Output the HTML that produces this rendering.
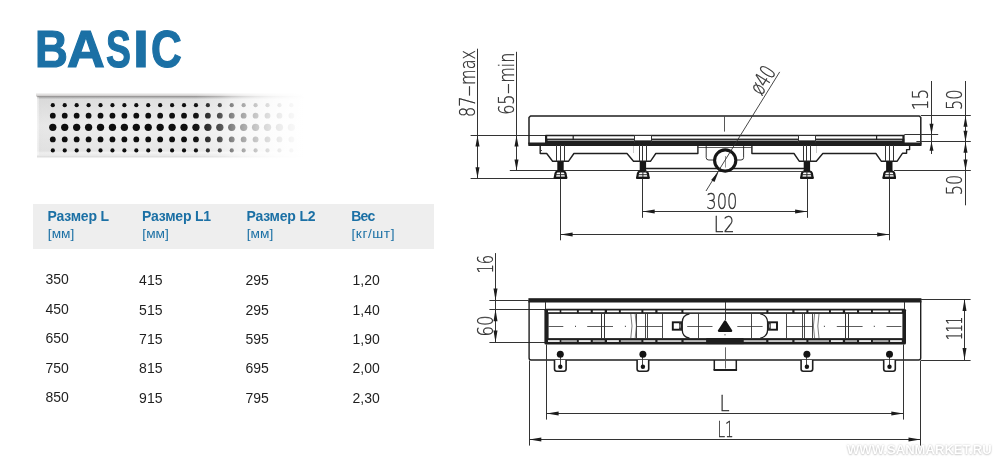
<!DOCTYPE html>
<html lang="ru">
<head>
<meta charset="utf-8">
<title>BASIC</title>
<style>
html,body{margin:0;padding:0;background:#fff;}
body{width:1000px;height:464px;position:relative;overflow:hidden;font-family:"Liberation Sans",sans-serif;}
.page{position:absolute;left:0;top:0;width:1000px;height:464px;overflow:hidden;will-change:transform;background:#fff;}
.title{position:absolute;left:0;top:19.49px;width:300px;height:60px;font-weight:bold;font-size:51.7px;line-height:60px;color:#1b70a5;white-space:nowrap;-webkit-text-stroke:1.2px #1b70a5;}
.title span{display:inline-block;width:0;transform-origin:0 0;}
.hdr{position:absolute;left:32.8px;top:203.9px;width:401.2px;height:45px;background:#eeeeee;}
.h1{position:absolute;height:24px;line-height:24px;font-weight:bold;font-size:14.0px;letter-spacing:-0.32px;color:#1b70a5;white-space:nowrap;}
.h2{position:absolute;height:20px;line-height:20px;font-size:13.7px;color:#1b70a5;white-space:nowrap;}
.d{position:absolute;height:24px;line-height:24px;font-size:14.0px;color:#1f1f1f;white-space:nowrap;}
.wm{position:absolute;left:846.5px;top:439.85px;height:20px;line-height:20px;font-weight:bold;font-size:13.7px;color:#fff;white-space:nowrap;text-shadow:0 0 2px rgba(0,0,0,0.25),0 1px 2px rgba(0,0,0,0.15);transform-origin:0 0;transform:scaleX(0.956);}
svg{position:absolute;left:0;top:0;}
</style>
</head>
<body>
<div class="page">
<div class="title"><span style="margin-left:34.68px;transform:scaleX(0.880)">B</span><span style="margin-left:32.22px;transform:scaleX(1.012)">A</span><span style="margin-left:39.25px;transform:scaleX(0.721)">S</span><span style="margin-left:27.07px;transform:scaleX(1.110)">I</span><span style="margin-left:17.92px;transform:scaleX(0.823)">C</span></div>
<svg width="1000" height="464" viewBox="0 0 1000 464">
<g id="grate">
<defs>
<linearGradient id="plate" x1="0" y1="0" x2="0" y2="1">
<stop offset="0" stop-color="#7d7a7a"/><stop offset="0.022" stop-color="#b4b4b4"/><stop offset="0.05" stop-color="#e0e0e0"/>
<stop offset="0.5" stop-color="#eeeeee"/><stop offset="0.92" stop-color="#e7e7e7"/><stop offset="0.95" stop-color="#f4f4f4"/><stop offset="1" stop-color="#e6e6e6"/>
</linearGradient>
<linearGradient id="dark" gradientUnits="userSpaceOnUse" x1="37" y1="0" x2="120" y2="0">
<stop offset="0" stop-color="#000" stop-opacity="0.03"/><stop offset="1" stop-color="#000" stop-opacity="0"/>
</linearGradient>
<linearGradient id="fade" gradientUnits="userSpaceOnUse" x1="186" y1="0" x2="305" y2="0">
<stop offset="0.000" stop-color="#fff" stop-opacity="0.0"/><stop offset="0.084" stop-color="#fff" stop-opacity="0.02"/><stop offset="0.185" stop-color="#fff" stop-opacity="0.15"/><stop offset="0.286" stop-color="#fff" stop-opacity="0.28"/><stop offset="0.387" stop-color="#fff" stop-opacity="0.5"/><stop offset="0.487" stop-color="#fff" stop-opacity="0.65"/><stop offset="0.588" stop-color="#fff" stop-opacity="0.77"/><stop offset="0.689" stop-color="#fff" stop-opacity="0.86"/><stop offset="0.790" stop-color="#fff" stop-opacity="0.92"/><stop offset="0.882" stop-color="#fff" stop-opacity="0.96"/><stop offset="1.000" stop-color="#fff" stop-opacity="1.0"/>
</linearGradient>
<linearGradient id="shadowT" x1="0" y1="0" x2="0" y2="1">
<stop offset="0" stop-color="#6b6462" stop-opacity="0"/><stop offset="1" stop-color="#6b6462" stop-opacity="0.4"/>
</linearGradient>
<linearGradient id="shadowB" x1="0" y1="0" x2="0" y2="1">
<stop offset="0" stop-color="#999" stop-opacity="0.45"/><stop offset="1" stop-color="#999" stop-opacity="0"/>
</linearGradient>
<linearGradient id="edgeL" x1="0" y1="0" x2="1" y2="0">
<stop offset="0" stop-color="#fff" stop-opacity="0.9"/><stop offset="1" stop-color="#fff" stop-opacity="0"/>
</linearGradient>
</defs>
<rect x="36" y="92.5" width="270" height="4" fill="url(#shadowT)"/>
<rect x="37" y="155.6" width="270" height="3" fill="url(#shadowB)"/>
<rect x="37.2" y="96.2" width="270" height="59.5" fill="url(#plate)"/>
<rect x="37.2" y="97.5" width="83" height="56" fill="url(#dark)"/>
<rect x="37.2" y="97.2" width="1.6" height="58" fill="#fff" fill-opacity="0.45"/>
<circle cx="52.80" cy="105.2" r="2.1" fill="#0e0e0e"/>
<circle cx="52.80" cy="115.7" r="2.9" fill="#0e0e0e"/>
<circle cx="52.80" cy="127.3" r="3.65" fill="#0e0e0e"/>
<circle cx="52.80" cy="139.4" r="2.9" fill="#0e0e0e"/>
<circle cx="52.80" cy="150.4" r="2.1" fill="#0e0e0e"/>
<circle cx="64.73" cy="105.2" r="2.1" fill="#0e0e0e"/>
<circle cx="64.73" cy="115.7" r="2.9" fill="#0e0e0e"/>
<circle cx="64.73" cy="127.3" r="3.65" fill="#0e0e0e"/>
<circle cx="64.73" cy="139.4" r="2.9" fill="#0e0e0e"/>
<circle cx="64.73" cy="150.4" r="2.1" fill="#0e0e0e"/>
<circle cx="76.66" cy="105.2" r="2.1" fill="#0e0e0e"/>
<circle cx="76.66" cy="115.7" r="2.9" fill="#0e0e0e"/>
<circle cx="76.66" cy="127.3" r="3.65" fill="#0e0e0e"/>
<circle cx="76.66" cy="139.4" r="2.9" fill="#0e0e0e"/>
<circle cx="76.66" cy="150.4" r="2.1" fill="#0e0e0e"/>
<circle cx="88.59" cy="105.2" r="2.1" fill="#0e0e0e"/>
<circle cx="88.59" cy="115.7" r="2.9" fill="#0e0e0e"/>
<circle cx="88.59" cy="127.3" r="3.65" fill="#0e0e0e"/>
<circle cx="88.59" cy="139.4" r="2.9" fill="#0e0e0e"/>
<circle cx="88.59" cy="150.4" r="2.1" fill="#0e0e0e"/>
<circle cx="100.52" cy="105.2" r="2.1" fill="#0e0e0e"/>
<circle cx="100.52" cy="115.7" r="2.9" fill="#0e0e0e"/>
<circle cx="100.52" cy="127.3" r="3.65" fill="#0e0e0e"/>
<circle cx="100.52" cy="139.4" r="2.9" fill="#0e0e0e"/>
<circle cx="100.52" cy="150.4" r="2.1" fill="#0e0e0e"/>
<circle cx="112.45" cy="105.2" r="2.1" fill="#0e0e0e"/>
<circle cx="112.45" cy="115.7" r="2.9" fill="#0e0e0e"/>
<circle cx="112.45" cy="127.3" r="3.65" fill="#0e0e0e"/>
<circle cx="112.45" cy="139.4" r="2.9" fill="#0e0e0e"/>
<circle cx="112.45" cy="150.4" r="2.1" fill="#0e0e0e"/>
<circle cx="124.38" cy="105.2" r="2.1" fill="#0e0e0e"/>
<circle cx="124.38" cy="115.7" r="2.9" fill="#0e0e0e"/>
<circle cx="124.38" cy="127.3" r="3.65" fill="#0e0e0e"/>
<circle cx="124.38" cy="139.4" r="2.9" fill="#0e0e0e"/>
<circle cx="124.38" cy="150.4" r="2.1" fill="#0e0e0e"/>
<circle cx="136.31" cy="105.2" r="2.1" fill="#0e0e0e"/>
<circle cx="136.31" cy="115.7" r="2.9" fill="#0e0e0e"/>
<circle cx="136.31" cy="127.3" r="3.65" fill="#0e0e0e"/>
<circle cx="136.31" cy="139.4" r="2.9" fill="#0e0e0e"/>
<circle cx="136.31" cy="150.4" r="2.1" fill="#0e0e0e"/>
<circle cx="148.24" cy="105.2" r="2.1" fill="#0e0e0e"/>
<circle cx="148.24" cy="115.7" r="2.9" fill="#0e0e0e"/>
<circle cx="148.24" cy="127.3" r="3.65" fill="#0e0e0e"/>
<circle cx="148.24" cy="139.4" r="2.9" fill="#0e0e0e"/>
<circle cx="148.24" cy="150.4" r="2.1" fill="#0e0e0e"/>
<circle cx="160.17" cy="105.2" r="2.1" fill="#0e0e0e"/>
<circle cx="160.17" cy="115.7" r="2.9" fill="#0e0e0e"/>
<circle cx="160.17" cy="127.3" r="3.65" fill="#0e0e0e"/>
<circle cx="160.17" cy="139.4" r="2.9" fill="#0e0e0e"/>
<circle cx="160.17" cy="150.4" r="2.1" fill="#0e0e0e"/>
<circle cx="172.10" cy="105.2" r="2.1" fill="#0e0e0e"/>
<circle cx="172.10" cy="115.7" r="2.9" fill="#0e0e0e"/>
<circle cx="172.10" cy="127.3" r="3.65" fill="#0e0e0e"/>
<circle cx="172.10" cy="139.4" r="2.9" fill="#0e0e0e"/>
<circle cx="172.10" cy="150.4" r="2.1" fill="#0e0e0e"/>
<circle cx="184.03" cy="105.2" r="2.1" fill="#0e0e0e"/>
<circle cx="184.03" cy="115.7" r="2.9" fill="#0e0e0e"/>
<circle cx="184.03" cy="127.3" r="3.65" fill="#0e0e0e"/>
<circle cx="184.03" cy="139.4" r="2.9" fill="#0e0e0e"/>
<circle cx="184.03" cy="150.4" r="2.1" fill="#0e0e0e"/>
<circle cx="195.96" cy="105.2" r="2.1" fill="#0e0e0e"/>
<circle cx="195.96" cy="115.7" r="2.9" fill="#0e0e0e"/>
<circle cx="195.96" cy="127.3" r="3.65" fill="#0e0e0e"/>
<circle cx="195.96" cy="139.4" r="2.9" fill="#0e0e0e"/>
<circle cx="195.96" cy="150.4" r="2.1" fill="#0e0e0e"/>
<circle cx="207.89" cy="105.2" r="2.1" fill="#0e0e0e"/>
<circle cx="207.89" cy="115.7" r="2.9" fill="#0e0e0e"/>
<circle cx="207.89" cy="127.3" r="3.65" fill="#0e0e0e"/>
<circle cx="207.89" cy="139.4" r="2.9" fill="#0e0e0e"/>
<circle cx="207.89" cy="150.4" r="2.1" fill="#0e0e0e"/>
<circle cx="219.82" cy="105.2" r="2.1" fill="#0e0e0e"/>
<circle cx="219.82" cy="115.7" r="2.9" fill="#0e0e0e"/>
<circle cx="219.82" cy="127.3" r="3.65" fill="#0e0e0e"/>
<circle cx="219.82" cy="139.4" r="2.9" fill="#0e0e0e"/>
<circle cx="219.82" cy="150.4" r="2.1" fill="#0e0e0e"/>
<circle cx="231.75" cy="105.2" r="2.1" fill="#0e0e0e"/>
<circle cx="231.75" cy="115.7" r="2.9" fill="#0e0e0e"/>
<circle cx="231.75" cy="127.3" r="3.65" fill="#0e0e0e"/>
<circle cx="231.75" cy="139.4" r="2.9" fill="#0e0e0e"/>
<circle cx="231.75" cy="150.4" r="2.1" fill="#0e0e0e"/>
<circle cx="243.68" cy="105.2" r="2.1" fill="#0e0e0e"/>
<circle cx="243.68" cy="115.7" r="2.9" fill="#0e0e0e"/>
<circle cx="243.68" cy="127.3" r="3.65" fill="#0e0e0e"/>
<circle cx="243.68" cy="139.4" r="2.9" fill="#0e0e0e"/>
<circle cx="243.68" cy="150.4" r="2.1" fill="#0e0e0e"/>
<circle cx="255.61" cy="105.2" r="2.1" fill="#0e0e0e"/>
<circle cx="255.61" cy="115.7" r="2.9" fill="#0e0e0e"/>
<circle cx="255.61" cy="127.3" r="3.65" fill="#0e0e0e"/>
<circle cx="255.61" cy="139.4" r="2.9" fill="#0e0e0e"/>
<circle cx="255.61" cy="150.4" r="2.1" fill="#0e0e0e"/>
<circle cx="267.54" cy="105.2" r="2.1" fill="#0e0e0e"/>
<circle cx="267.54" cy="115.7" r="2.9" fill="#0e0e0e"/>
<circle cx="267.54" cy="127.3" r="3.65" fill="#0e0e0e"/>
<circle cx="267.54" cy="139.4" r="2.9" fill="#0e0e0e"/>
<circle cx="267.54" cy="150.4" r="2.1" fill="#0e0e0e"/>
<circle cx="279.47" cy="105.2" r="2.1" fill="#0e0e0e"/>
<circle cx="279.47" cy="115.7" r="2.9" fill="#0e0e0e"/>
<circle cx="279.47" cy="127.3" r="3.65" fill="#0e0e0e"/>
<circle cx="279.47" cy="139.4" r="2.9" fill="#0e0e0e"/>
<circle cx="279.47" cy="150.4" r="2.1" fill="#0e0e0e"/>
<circle cx="291.40" cy="105.2" r="2.1" fill="#0e0e0e"/>
<circle cx="291.40" cy="115.7" r="2.9" fill="#0e0e0e"/>
<circle cx="291.40" cy="127.3" r="3.65" fill="#0e0e0e"/>
<circle cx="291.40" cy="139.4" r="2.9" fill="#0e0e0e"/>
<circle cx="291.40" cy="150.4" r="2.1" fill="#0e0e0e"/>
<rect x="30" y="88" width="285" height="75" fill="url(#fade)"/>
</g>
<g id="drawing">
<line x1="477.50" y1="48.70" x2="477.50" y2="178.30" stroke="#333" stroke-width="1.0" />
<line x1="516.50" y1="51.80" x2="516.50" y2="170.60" stroke="#333" stroke-width="1.0" />
<line x1="470.60" y1="135.50" x2="545.50" y2="135.50" stroke="#333" stroke-width="1.0" />
<line x1="470.60" y1="178.50" x2="554.50" y2="178.50" stroke="#333" stroke-width="1.0" />
<line x1="509.80" y1="170.50" x2="645.00" y2="170.50" stroke="#333" stroke-width="1.0" />
<path d="M477.50 135.50 L475.50 146.50 L479.50 146.50 Z" fill="#1c1c1c"/>
<path d="M477.50 178.30 L479.50 167.30 L475.50 167.30 Z" fill="#1c1c1c"/>
<path d="M516.50 135.50 L514.50 146.50 L518.50 146.50 Z" fill="#1c1c1c"/>
<path d="M516.50 170.60 L518.50 159.60 L514.50 159.60 Z" fill="#1c1c1c"/>
<text transform="translate(474.80 117.01) rotate(-90) scale(0.736 1)" font-family="'DejaVu Sans Light','DejaVu Sans','Liberation Sans',sans-serif" font-size="21.7" fill="#2c2c2c" stroke="#2c2c2c" stroke-width="0.3">87<tspan textLength="16.0" lengthAdjust="spacingAndGlyphs">-</tspan>max</text>
<text transform="translate(513.80 114.85) rotate(-90) scale(0.737 1)" font-family="'DejaVu Sans Light','DejaVu Sans','Liberation Sans',sans-serif" font-size="21.7" fill="#2c2c2c" stroke="#2c2c2c" stroke-width="0.3">65<tspan textLength="16.0" lengthAdjust="spacingAndGlyphs">-</tspan>min</text>
<path d="M529.00 144.50 L529.00 117.50 L530.50 116.00 L919.30 116.00 L920.80 117.50 L920.80 144.50" fill="none" stroke="#1f1f1f" stroke-width="1.5" stroke-linejoin="round" />
<rect x="528.30" y="142.50" width="393.20" height="3.50" rx="0" fill="#1f1f1f" stroke="none" stroke-width="0"/>
<line x1="545.50" y1="135.50" x2="904.30" y2="135.50" stroke="#1f1f1f" stroke-width="1.4" />
<rect x="545.50" y="138.60" width="358.80" height="7.30" rx="0" fill="#1f1f1f" stroke="none" stroke-width="0"/>
<rect x="547.50" y="139.90" width="354.80" height="0.90" rx="0" fill="#b5b5b5" stroke="none" stroke-width="0"/>
<rect x="545.00" y="135.00" width="2.20" height="8.00" rx="0" fill="#1f1f1f" stroke="none" stroke-width="0"/>
<rect x="902.40" y="135.00" width="2.20" height="8.00" rx="0" fill="#1f1f1f" stroke="none" stroke-width="0"/>
<rect x="634.00" y="134.80" width="17.20" height="6.00" rx="0" fill="#fff" stroke="none" stroke-width="0"/>
<line x1="634.00" y1="135.50" x2="651.20" y2="135.50" stroke="#333" stroke-width="1.0" />
<line x1="634.00" y1="141.00" x2="651.20" y2="141.00" stroke="#1f1f1f" stroke-width="1.2" />
<line x1="634.50" y1="135.00" x2="634.50" y2="142.60" stroke="#333" stroke-width="1.0" />
<line x1="651.50" y1="135.00" x2="651.50" y2="142.60" stroke="#333" stroke-width="1.0" />
<rect x="798.60" y="134.80" width="17.20" height="6.00" rx="0" fill="#fff" stroke="none" stroke-width="0"/>
<line x1="798.60" y1="135.50" x2="815.80" y2="135.50" stroke="#333" stroke-width="1.0" />
<line x1="798.60" y1="141.00" x2="815.80" y2="141.00" stroke="#1f1f1f" stroke-width="1.2" />
<line x1="798.50" y1="135.00" x2="798.50" y2="142.60" stroke="#333" stroke-width="1.0" />
<line x1="815.50" y1="135.00" x2="815.50" y2="142.60" stroke="#333" stroke-width="1.0" />
<line x1="573.20" y1="135.50" x2="573.20" y2="140.00" stroke="#1f1f1f" stroke-width="1.2" />
<line x1="876.60" y1="135.50" x2="876.60" y2="140.00" stroke="#1f1f1f" stroke-width="1.2" />
<line x1="724.50" y1="116.00" x2="724.50" y2="131.60" stroke="#444" stroke-width="0.9" />
<path d="M540.20 145.00 L540.20 153.50 L546.70 153.50 L552.60 161.20 L568.60 161.20 L573.90 153.50 L627.00 153.50 L633.50 161.20 L650.60 161.20 L655.80 153.50 L697.90 153.50 L697.90 145.00" fill="none" stroke="#1f1f1f" stroke-width="1.4" stroke-linejoin="round" />
<line x1="540.20" y1="150.50" x2="542.00" y2="150.50" stroke="#333" stroke-width="0.9" />
<path d="M909.60 145.50 L909.60 149.60 L906.60 149.60 L906.60 153.30 L902.40 153.30 L897.20 161.20 L881.20 161.20 L875.90 153.50 L822.80 153.50 L816.30 161.20 L799.20 161.20 L794.00 153.50 L751.90 153.50 L751.90 145.00" fill="none" stroke="#1f1f1f" stroke-width="1.4" stroke-linejoin="round" />
<line x1="556.50" y1="145.00" x2="556.50" y2="161.50" stroke="#333" stroke-width="1.0" />
<line x1="560.50" y1="145.00" x2="560.50" y2="161.50" stroke="#333" stroke-width="1.0" />
<line x1="564.50" y1="145.00" x2="564.50" y2="161.50" stroke="#333" stroke-width="1.0" />
<rect x="557.30" y="161.40" width="6.40" height="9.80" rx="0" fill="#161616" stroke="none" stroke-width="0"/>
<path d="M554.80 177.8 L555.50 173.6 Q556.00 171.5 557.70 171.5 L563.30 171.5 Q565.00 171.5 565.50 173.6 L566.20 177.8 Z" fill="#fff" stroke="#161616" stroke-width="2.2" stroke-linejoin="round"/>
<line x1="555.50" y1="174.70" x2="565.50" y2="174.70" stroke="#2a2a2a" stroke-width="1.0" />
<line x1="560.50" y1="171.00" x2="560.50" y2="178.00" stroke="#2a2a2a" stroke-width="1.0" />
<rect x="553.80" y="176.80" width="13.40" height="2.00" rx="0" fill="#161616" stroke="none" stroke-width="0"/>
<line x1="639.50" y1="145.00" x2="639.50" y2="161.50" stroke="#333" stroke-width="1.0" />
<line x1="642.50" y1="145.00" x2="642.50" y2="161.50" stroke="#333" stroke-width="1.0" />
<line x1="646.50" y1="145.00" x2="646.50" y2="161.50" stroke="#333" stroke-width="1.0" />
<rect x="639.70" y="161.40" width="6.40" height="9.80" rx="0" fill="#161616" stroke="none" stroke-width="0"/>
<path d="M637.20 177.8 L637.90 173.6 Q638.40 171.5 640.10 171.5 L645.70 171.5 Q647.40 171.5 647.90 173.6 L648.60 177.8 Z" fill="#fff" stroke="#161616" stroke-width="2.2" stroke-linejoin="round"/>
<line x1="637.90" y1="174.70" x2="647.90" y2="174.70" stroke="#2a2a2a" stroke-width="1.0" />
<line x1="642.90" y1="171.00" x2="642.90" y2="178.00" stroke="#2a2a2a" stroke-width="1.0" />
<rect x="636.20" y="176.80" width="13.40" height="2.00" rx="0" fill="#161616" stroke="none" stroke-width="0"/>
<line x1="803.50" y1="145.00" x2="803.50" y2="161.50" stroke="#333" stroke-width="1.0" />
<line x1="806.50" y1="145.00" x2="806.50" y2="161.50" stroke="#333" stroke-width="1.0" />
<line x1="810.50" y1="145.00" x2="810.50" y2="161.50" stroke="#333" stroke-width="1.0" />
<rect x="803.70" y="161.40" width="6.40" height="9.80" rx="0" fill="#161616" stroke="none" stroke-width="0"/>
<path d="M801.20 177.8 L801.90 173.6 Q802.40 171.5 804.10 171.5 L809.70 171.5 Q811.40 171.5 811.90 173.6 L812.60 177.8 Z" fill="#fff" stroke="#161616" stroke-width="2.2" stroke-linejoin="round"/>
<line x1="801.90" y1="174.70" x2="811.90" y2="174.70" stroke="#2a2a2a" stroke-width="1.0" />
<line x1="806.90" y1="171.00" x2="806.90" y2="178.00" stroke="#2a2a2a" stroke-width="1.0" />
<rect x="800.20" y="176.80" width="13.40" height="2.00" rx="0" fill="#161616" stroke="none" stroke-width="0"/>
<line x1="885.50" y1="145.00" x2="885.50" y2="161.50" stroke="#333" stroke-width="1.0" />
<line x1="889.50" y1="145.00" x2="889.50" y2="161.50" stroke="#333" stroke-width="1.0" />
<line x1="893.50" y1="145.00" x2="893.50" y2="161.50" stroke="#333" stroke-width="1.0" />
<rect x="886.10" y="161.40" width="6.40" height="9.80" rx="0" fill="#161616" stroke="none" stroke-width="0"/>
<path d="M883.60 177.8 L884.30 173.6 Q884.80 171.5 886.50 171.5 L892.10 171.5 Q893.80 171.5 894.30 173.6 L895.00 177.8 Z" fill="#fff" stroke="#161616" stroke-width="2.2" stroke-linejoin="round"/>
<line x1="884.30" y1="174.70" x2="894.30" y2="174.70" stroke="#2a2a2a" stroke-width="1.0" />
<line x1="889.30" y1="171.00" x2="889.30" y2="178.00" stroke="#2a2a2a" stroke-width="1.0" />
<rect x="882.60" y="176.80" width="13.40" height="2.00" rx="0" fill="#161616" stroke="none" stroke-width="0"/>
<line x1="633.50" y1="146.00" x2="633.50" y2="153.00" stroke="#999" stroke-width="0.5" />
<line x1="816.50" y1="146.00" x2="816.50" y2="153.00" stroke="#999" stroke-width="0.5" />
<line x1="646.00" y1="168.50" x2="804.00" y2="168.50" stroke="#1f1f1f" stroke-width="1.4" />
<line x1="645.00" y1="171.50" x2="804.00" y2="171.50" stroke="#333" stroke-width="0.9" />
<line x1="697.90" y1="147.50" x2="751.90" y2="147.50" stroke="#333" stroke-width="0.8" />
<path d="M706.2 146 L706.2 157.6 Q706.2 160 708.8 160 L714 160 M743.60 146 L743.60 157.6 Q743.60 160 741.00 160 L735.80 160" fill="none" stroke="#1f1f1f" stroke-width="0.9"/>
<circle cx="725.2" cy="160.5" r="10.6" fill="#fff" stroke="#161616" stroke-width="3.1"/>
<line x1="725.50" y1="156.00" x2="725.50" y2="167.50" stroke="#777" stroke-width="0.8" />
<line x1="779.70" y1="71.90" x2="706.00" y2="191.00" stroke="#333" stroke-width="0.9" />
<path d="M718.60 171.60 L711.11 179.90 L714.51 182.01 Z" fill="#1c1c1c"/>
<text transform="translate(761.38 96.31) rotate(-58.25) scale(0.710 1)" font-family="'DejaVu Sans Light','DejaVu Sans','Liberation Sans',sans-serif" font-size="21.7" fill="#2c2c2c" stroke="#2c2c2c" stroke-width="0.3">ø40</text>
<line x1="920.80" y1="115.50" x2="970.80" y2="115.50" stroke="#333" stroke-width="1.0" />
<line x1="904.30" y1="134.50" x2="938.20" y2="134.50" stroke="#333" stroke-width="1.0" />
<line x1="916.40" y1="141.50" x2="970.80" y2="141.50" stroke="#333" stroke-width="1.0" />
<line x1="894.00" y1="170.50" x2="970.80" y2="170.50" stroke="#333" stroke-width="1.0" />
<line x1="931.50" y1="81.00" x2="931.50" y2="154.00" stroke="#333" stroke-width="1.0" />
<line x1="965.50" y1="81.00" x2="965.50" y2="205.30" stroke="#333" stroke-width="1.0" />
<path d="M931.50 134.30 L933.50 123.80 L929.50 123.80 Z" fill="#1c1c1c"/>
<path d="M931.50 141.80 L929.50 150.80 L933.50 150.80 Z" fill="#1c1c1c"/>
<path d="M965.50 115.70 L963.50 126.70 L967.50 126.70 Z" fill="#1c1c1c"/>
<path d="M965.50 141.80 L967.50 130.80 L963.50 130.80 Z" fill="#1c1c1c"/>
<path d="M965.50 141.80 L963.50 152.80 L967.50 152.80 Z" fill="#1c1c1c"/>
<path d="M965.50 170.50 L967.50 159.50 L963.50 159.50 Z" fill="#1c1c1c"/>
<text transform="translate(927.60 110.25) rotate(-90) scale(0.776 1)" font-family="'DejaVu Sans Light','DejaVu Sans','Liberation Sans',sans-serif" font-size="21.7" fill="#2c2c2c" stroke="#2c2c2c" stroke-width="0.3">15</text>
<text transform="translate(962.30 110.00) rotate(-90) scale(0.746 1)" font-family="'DejaVu Sans Light','DejaVu Sans','Liberation Sans',sans-serif" font-size="21.7" fill="#2c2c2c" stroke="#2c2c2c" stroke-width="0.3">50</text>
<text transform="translate(962.20 195.29) rotate(-90) scale(0.742 1)" font-family="'DejaVu Sans Light','DejaVu Sans','Liberation Sans',sans-serif" font-size="21.7" fill="#2c2c2c" stroke="#2c2c2c" stroke-width="0.3">50</text>
<line x1="560.50" y1="178.60" x2="560.50" y2="240.30" stroke="#333" stroke-width="1.0" />
<line x1="889.50" y1="178.60" x2="889.50" y2="240.30" stroke="#333" stroke-width="1.0" />
<line x1="642.50" y1="178.60" x2="642.50" y2="217.80" stroke="#333" stroke-width="1.0" />
<line x1="807.50" y1="178.60" x2="807.50" y2="217.80" stroke="#333" stroke-width="1.0" />
<line x1="642.70" y1="211.50" x2="807.10" y2="211.50" stroke="#333" stroke-width="1.0" />
<path d="M642.70 211.50 L654.70 213.50 L654.70 209.50 Z" fill="#1c1c1c"/>
<path d="M807.10 211.50 L795.10 209.50 L795.10 213.50 Z" fill="#1c1c1c"/>
<line x1="560.60" y1="234.50" x2="889.20" y2="234.50" stroke="#333" stroke-width="1.0" />
<path d="M560.60 234.50 L572.60 236.50 L572.60 232.50 Z" fill="#1c1c1c"/>
<path d="M889.20 234.50 L877.20 232.50 L877.20 236.50 Z" fill="#1c1c1c"/>
<text transform="translate(706.36 208.60) scale(0.752 1)" font-family="'DejaVu Sans Light','DejaVu Sans','Liberation Sans',sans-serif" font-size="21.7" fill="#2c2c2c" stroke="#2c2c2c" stroke-width="0.3">300</text>
<text transform="translate(713.86 231.60) scale(0.807 1)" font-family="'DejaVu Sans Light','DejaVu Sans','Liberation Sans',sans-serif" font-size="21.7" fill="#2c2c2c" stroke="#2c2c2c" stroke-width="0.3">L2</text>
<line x1="495.50" y1="253.10" x2="495.50" y2="342.50" stroke="#333" stroke-width="1.0" />
<line x1="489.40" y1="300.50" x2="528.60" y2="300.50" stroke="#333" stroke-width="1.0" />
<line x1="489.40" y1="309.50" x2="545.50" y2="309.50" stroke="#333" stroke-width="1.0" />
<line x1="489.40" y1="342.50" x2="545.50" y2="342.50" stroke="#333" stroke-width="1.0" />
<path d="M495.50 300.60 L497.50 288.60 L493.50 288.60 Z" fill="#1c1c1c"/>
<path d="M495.50 309.30 L493.50 321.30 L497.50 321.30 Z" fill="#1c1c1c"/>
<path d="M495.50 342.50 L497.50 330.50 L493.50 330.50 Z" fill="#1c1c1c"/>
<text transform="translate(493.20 273.51) rotate(-90) scale(0.677 1)" font-family="'DejaVu Sans Light','DejaVu Sans','Liberation Sans',sans-serif" font-size="21.7" fill="#2c2c2c" stroke="#2c2c2c" stroke-width="0.3">16</text>
<text transform="translate(493.10 336.62) rotate(-90) scale(0.766 1)" font-family="'DejaVu Sans Light','DejaVu Sans','Liberation Sans',sans-serif" font-size="21.7" fill="#2c2c2c" stroke="#2c2c2c" stroke-width="0.3">60</text>
<path d="M529.1 300.4 L529.1 358 Q529.1 360 531.1 360 L918.7 360 Q920.7 360 920.7 358 L920.7 300.4" fill="none" stroke="#1f1f1f" stroke-width="1.4"/>
<rect x="528.40" y="298.20" width="393.00" height="4.30" rx="0" fill="#1f1f1f" stroke="none" stroke-width="0"/>
<rect x="544.40" y="308.70" width="361.60" height="35.70" rx="1.5" fill="#1f1f1f" stroke="none" stroke-width="0"/>
<rect x="548.60" y="313.90" width="353.80" height="24.20" rx="0" fill="#fff" stroke="none" stroke-width="0"/>
<line x1="545.50" y1="302.00" x2="545.50" y2="309.00" stroke="#333" stroke-width="1.0" />
<line x1="904.50" y1="302.00" x2="904.50" y2="309.00" stroke="#333" stroke-width="1.0" />
<rect x="548.00" y="310.50" width="11.70" height="1.70" rx="0" fill="#fff" stroke="none" stroke-width="0"/>
<rect x="890.10" y="310.50" width="11.70" height="1.70" rx="0" fill="#fff" stroke="none" stroke-width="0"/>
<rect x="561.30" y="310.50" width="15.60" height="1.70" rx="0" fill="#fff" stroke="none" stroke-width="0"/>
<rect x="872.90" y="310.50" width="15.60" height="1.70" rx="0" fill="#fff" stroke="none" stroke-width="0"/>
<rect x="578.80" y="310.50" width="11.90" height="1.70" rx="0" fill="#fff" stroke="none" stroke-width="0"/>
<rect x="859.10" y="310.50" width="11.90" height="1.70" rx="0" fill="#fff" stroke="none" stroke-width="0"/>
<rect x="592.80" y="310.50" width="11.90" height="1.70" rx="0" fill="#fff" stroke="none" stroke-width="0"/>
<rect x="845.10" y="310.50" width="11.90" height="1.70" rx="0" fill="#fff" stroke="none" stroke-width="0"/>
<rect x="607.00" y="310.50" width="11.90" height="1.70" rx="0" fill="#fff" stroke="none" stroke-width="0"/>
<rect x="830.90" y="310.50" width="11.90" height="1.70" rx="0" fill="#fff" stroke="none" stroke-width="0"/>
<rect x="620.80" y="310.50" width="20.60" height="1.70" rx="0" fill="#fff" stroke="none" stroke-width="0"/>
<rect x="808.40" y="310.50" width="20.60" height="1.70" rx="0" fill="#fff" stroke="none" stroke-width="0"/>
<rect x="643.40" y="310.50" width="11.90" height="1.70" rx="0" fill="#fff" stroke="none" stroke-width="0"/>
<rect x="794.50" y="310.50" width="11.90" height="1.70" rx="0" fill="#fff" stroke="none" stroke-width="0"/>
<rect x="657.50" y="310.50" width="23.90" height="1.70" rx="0" fill="#fff" stroke="none" stroke-width="0"/>
<rect x="768.40" y="310.50" width="23.90" height="1.70" rx="0" fill="#fff" stroke="none" stroke-width="0"/>
<rect x="683.60" y="310.50" width="41.40" height="1.70" rx="0" fill="#fff" stroke="none" stroke-width="0"/>
<rect x="683.60" y="310.50" width="82.80" height="1.70" rx="0" fill="#fff" stroke="none" stroke-width="0"/>
<rect x="548.00" y="340.20" width="11.70" height="1.70" rx="0" fill="#fff" stroke="none" stroke-width="0"/>
<rect x="890.10" y="340.20" width="11.70" height="1.70" rx="0" fill="#fff" stroke="none" stroke-width="0"/>
<rect x="561.30" y="340.20" width="15.60" height="1.70" rx="0" fill="#bbb" stroke="none" stroke-width="0"/>
<rect x="872.90" y="340.20" width="15.60" height="1.70" rx="0" fill="#bbb" stroke="none" stroke-width="0"/>
<rect x="578.80" y="340.20" width="11.90" height="1.70" rx="0" fill="#fff" stroke="none" stroke-width="0"/>
<rect x="859.10" y="340.20" width="11.90" height="1.70" rx="0" fill="#fff" stroke="none" stroke-width="0"/>
<rect x="592.80" y="340.20" width="11.90" height="1.70" rx="0" fill="#bbb" stroke="none" stroke-width="0"/>
<rect x="845.10" y="340.20" width="11.90" height="1.70" rx="0" fill="#bbb" stroke="none" stroke-width="0"/>
<rect x="607.00" y="340.20" width="11.90" height="1.70" rx="0" fill="#fff" stroke="none" stroke-width="0"/>
<rect x="830.90" y="340.20" width="11.90" height="1.70" rx="0" fill="#fff" stroke="none" stroke-width="0"/>
<rect x="620.80" y="340.20" width="20.60" height="1.70" rx="0" fill="#bbb" stroke="none" stroke-width="0"/>
<rect x="808.40" y="340.20" width="20.60" height="1.70" rx="0" fill="#bbb" stroke="none" stroke-width="0"/>
<rect x="643.40" y="340.20" width="11.90" height="1.70" rx="0" fill="#ddd" stroke="none" stroke-width="0"/>
<rect x="794.50" y="340.20" width="11.90" height="1.70" rx="0" fill="#ddd" stroke="none" stroke-width="0"/>
<rect x="657.50" y="340.20" width="23.90" height="1.70" rx="0" fill="#ddd" stroke="none" stroke-width="0"/>
<rect x="768.40" y="340.20" width="23.90" height="1.70" rx="0" fill="#ddd" stroke="none" stroke-width="0"/>
<rect x="683.60" y="340.20" width="22.70" height="1.70" rx="0" fill="#ccc" stroke="none" stroke-width="0"/>
<rect x="743.50" y="340.20" width="22.70" height="1.70" rx="0" fill="#ccc" stroke="none" stroke-width="0"/>
<rect x="706.30" y="338.10" width="37.20" height="6.00" rx="0" fill="#1f1f1f" stroke="none" stroke-width="0"/>
<line x1="601.50" y1="313.90" x2="601.50" y2="338.10" stroke="#333" stroke-width="1.0" />
<line x1="604.50" y1="313.90" x2="604.50" y2="338.10" stroke="#333" stroke-width="1.0" />
<line x1="636.50" y1="313.90" x2="636.50" y2="338.10" stroke="#333" stroke-width="0.9" />
<line x1="645.50" y1="313.90" x2="645.50" y2="338.10" stroke="#333" stroke-width="0.9" />
<line x1="647.50" y1="313.90" x2="647.50" y2="338.10" stroke="#333" stroke-width="0.9" />
<line x1="662.50" y1="313.90" x2="662.50" y2="338.10" stroke="#333" stroke-width="0.9" />
<line x1="698.50" y1="313.90" x2="698.50" y2="338.10" stroke="#333" stroke-width="0.9" />
<path d="M630.80 313.9 Q633.20 326 630.80 338.1" fill="none" stroke="#444" stroke-width="0.7"/>
<path d="M635.20 313.9 Q637.60 326 635.20 338.1" fill="none" stroke="#444" stroke-width="0.7"/>
<rect x="672.80" y="322.30" width="8.80" height="7.40" rx="0" fill="#fff" stroke="#161616" stroke-width="1.9"/>
<rect x="679.00" y="322.30" width="2.60" height="7.40" rx="0" fill="#333" stroke="none" stroke-width="0"/>
<rect x="679.60" y="324.30" width="1.00" height="3.40" rx="0" fill="#bbb" stroke="none" stroke-width="0"/>
<path d="M689.50 313.9 Q682.20 315.2 682.20 322.5 L682.20 329.5 Q682.20 336.8 689.50 338.1" fill="none" stroke="#1f1f1f" stroke-width="1.3"/>
<line x1="848.50" y1="313.90" x2="848.50" y2="338.10" stroke="#333" stroke-width="1.0" />
<line x1="845.50" y1="313.90" x2="845.50" y2="338.10" stroke="#333" stroke-width="1.0" />
<line x1="812.50" y1="313.90" x2="812.50" y2="338.10" stroke="#333" stroke-width="0.9" />
<line x1="804.50" y1="313.90" x2="804.50" y2="338.10" stroke="#333" stroke-width="0.9" />
<line x1="802.50" y1="313.90" x2="802.50" y2="338.10" stroke="#333" stroke-width="0.9" />
<line x1="786.50" y1="313.90" x2="786.50" y2="338.10" stroke="#333" stroke-width="0.9" />
<line x1="751.50" y1="313.90" x2="751.50" y2="338.10" stroke="#333" stroke-width="0.9" />
<path d="M819.00 313.9 Q816.60 326 819.00 338.1" fill="none" stroke="#444" stroke-width="0.7"/>
<path d="M814.60 313.9 Q812.20 326 814.60 338.1" fill="none" stroke="#444" stroke-width="0.7"/>
<rect x="768.20" y="322.30" width="8.80" height="7.40" rx="0" fill="#fff" stroke="#161616" stroke-width="1.9"/>
<rect x="768.20" y="322.30" width="2.60" height="7.40" rx="0" fill="#333" stroke="none" stroke-width="0"/>
<rect x="769.20" y="324.30" width="1.00" height="3.40" rx="0" fill="#bbb" stroke="none" stroke-width="0"/>
<path d="M760.30 313.9 Q767.60 315.2 767.60 322.5 L767.60 329.5 Q767.60 336.8 760.30 338.1" fill="none" stroke="#1f1f1f" stroke-width="1.3"/>
<line x1="548.40" y1="326.50" x2="563.30" y2="326.50" stroke="#333" stroke-width="0.8" />
<line x1="886.50" y1="326.50" x2="901.40" y2="326.50" stroke="#333" stroke-width="0.8" />
<line x1="587.20" y1="326.50" x2="613.00" y2="326.50" stroke="#333" stroke-width="0.8" />
<line x1="836.80" y1="326.50" x2="862.60" y2="326.50" stroke="#333" stroke-width="0.8" />
<line x1="636.90" y1="326.50" x2="662.90" y2="326.50" stroke="#333" stroke-width="0.8" />
<line x1="786.90" y1="326.50" x2="812.90" y2="326.50" stroke="#333" stroke-width="0.8" />
<line x1="687.20" y1="326.50" x2="712.50" y2="326.50" stroke="#333" stroke-width="0.8" />
<line x1="737.30" y1="326.50" x2="762.60" y2="326.50" stroke="#333" stroke-width="0.8" />
<rect x="575.00" y="325.80" width="1.00" height="1.00" rx="0" fill="#1f1f1f" stroke="none" stroke-width="0"/>
<rect x="873.80" y="325.80" width="1.00" height="1.00" rx="0" fill="#1f1f1f" stroke="none" stroke-width="0"/>
<rect x="624.90" y="325.80" width="1.00" height="1.00" rx="0" fill="#1f1f1f" stroke="none" stroke-width="0"/>
<rect x="823.90" y="325.80" width="1.00" height="1.00" rx="0" fill="#1f1f1f" stroke="none" stroke-width="0"/>
<line x1="725.50" y1="302.00" x2="725.50" y2="320.00" stroke="#2a2a2a" stroke-width="0.9" />
<line x1="725.50" y1="347.30" x2="725.50" y2="368.60" stroke="#555" stroke-width="0.9" />
<rect x="724.50" y="334.30" width="1.00" height="1.00" rx="0" fill="#1f1f1f" stroke="none" stroke-width="0"/>
<path d="M725.1 321.3 L731.2 330.8 L718.9 330.8 Z" fill="#141414" stroke="#141414" stroke-width="2.2" stroke-linejoin="round"/>
<path d="M714.3 360 L714.3 370.0 M736.3 370.0 L736.3 360" fill="none" stroke="#1f1f1f" stroke-width="1.5"/>
<rect x="713.55" y="369.00" width="23.50" height="2.00" rx="0" fill="#1f1f1f" stroke="none" stroke-width="0"/>
<path d="M554.50 360 L554.50 369 Q554.50 371.2 556.70 371.2 L563.90 371.2 Q566.10 371.2 566.10 369 L566.10 360" fill="#fff" stroke="#1f1f1f" stroke-width="1.6"/>
<line x1="560.50" y1="354.00" x2="560.50" y2="367.00" stroke="#333" stroke-width="0.9" />
<circle cx="560.30" cy="354.2" r="3.5" fill="#141414"/>
<circle cx="560.30" cy="366.8" r="2.2" fill="#141414"/>
<path d="M637.10 360 L637.10 369 Q637.10 371.2 639.30 371.2 L646.50 371.2 Q648.70 371.2 648.70 369 L648.70 360" fill="#fff" stroke="#1f1f1f" stroke-width="1.6"/>
<line x1="642.50" y1="354.00" x2="642.50" y2="367.00" stroke="#333" stroke-width="0.9" />
<circle cx="642.90" cy="354.2" r="3.5" fill="#141414"/>
<circle cx="642.90" cy="366.8" r="2.2" fill="#141414"/>
<path d="M801.10 360 L801.10 369 Q801.10 371.2 803.30 371.2 L810.50 371.2 Q812.70 371.2 812.70 369 L812.70 360" fill="#fff" stroke="#1f1f1f" stroke-width="1.6"/>
<line x1="806.50" y1="354.00" x2="806.50" y2="367.00" stroke="#333" stroke-width="0.9" />
<circle cx="806.90" cy="354.2" r="3.5" fill="#141414"/>
<circle cx="806.90" cy="366.8" r="2.2" fill="#141414"/>
<path d="M883.70 360 L883.70 369 Q883.70 371.2 885.90 371.2 L893.10 371.2 Q895.30 371.2 895.30 369 L895.30 360" fill="#fff" stroke="#1f1f1f" stroke-width="1.6"/>
<line x1="889.50" y1="354.00" x2="889.50" y2="367.00" stroke="#333" stroke-width="0.9" />
<circle cx="889.50" cy="354.2" r="3.5" fill="#141414"/>
<circle cx="889.50" cy="366.8" r="2.2" fill="#141414"/>
<line x1="921.00" y1="299.50" x2="970.60" y2="299.50" stroke="#333" stroke-width="1.0" />
<line x1="921.00" y1="360.50" x2="970.60" y2="360.50" stroke="#333" stroke-width="1.0" />
<line x1="964.50" y1="299.00" x2="964.50" y2="360.00" stroke="#333" stroke-width="1.0" />
<path d="M964.50 299.00 L962.50 311.00 L966.50 311.00 Z" fill="#1c1c1c"/>
<path d="M964.50 360.00 L966.50 348.00 L962.50 348.00 Z" fill="#1c1c1c"/>
<text transform="translate(961.50 340.05) rotate(-90) scale(0.567 1)" font-family="'DejaVu Sans Light','DejaVu Sans','Liberation Sans',sans-serif" font-size="21.7" fill="#2c2c2c" stroke="#2c2c2c" stroke-width="0.3">111</text>
<line x1="546.50" y1="344.40" x2="546.50" y2="419.60" stroke="#333" stroke-width="1.0" />
<line x1="903.50" y1="344.40" x2="903.50" y2="419.60" stroke="#333" stroke-width="1.0" />
<line x1="529.50" y1="360.50" x2="529.50" y2="445.60" stroke="#333" stroke-width="1.0" />
<line x1="920.50" y1="360.50" x2="920.50" y2="445.60" stroke="#333" stroke-width="1.0" />
<line x1="546.60" y1="413.50" x2="903.30" y2="413.50" stroke="#333" stroke-width="1.0" />
<path d="M546.60 413.50 L558.60 415.50 L558.60 411.50 Z" fill="#1c1c1c"/>
<path d="M903.30 413.50 L891.30 411.50 L891.30 415.50 Z" fill="#1c1c1c"/>
<line x1="529.30" y1="439.50" x2="920.50" y2="439.50" stroke="#333" stroke-width="1.0" />
<path d="M529.30 439.50 L541.30 441.50 L541.30 437.50 Z" fill="#1c1c1c"/>
<path d="M920.50 439.50 L908.50 437.50 L908.50 441.50 Z" fill="#1c1c1c"/>
<text transform="translate(719.59 410.70) scale(0.833 1)" font-family="'DejaVu Sans Light','DejaVu Sans','Liberation Sans',sans-serif" font-size="21.7" fill="#2c2c2c" stroke="#2c2c2c" stroke-width="0.3">L</text>
<text transform="translate(717.44 436.70) scale(0.628 1)" font-family="'DejaVu Sans Light','DejaVu Sans','Liberation Sans',sans-serif" font-size="21.7" fill="#2c2c2c" stroke="#2c2c2c" stroke-width="0.3">L1</text>
</g>
</svg>
<div class="hdr"></div>
<div class="h1" style="left:47.6px;top:204.45px;letter-spacing:-0.2px">Размер L</div>
<div class="h2" style="left:47.8px;top:223.95px;letter-spacing:0.05px">[мм]</div>
<div class="h1" style="left:142.1px;top:204.45px;letter-spacing:-0.2px">Размер L1</div>
<div class="h2" style="left:142.3px;top:223.95px;letter-spacing:0.05px">[мм]</div>
<div class="h1" style="left:246.5px;top:204.45px;letter-spacing:-0.2px">Размер L2</div>
<div class="h2" style="left:246.7px;top:223.95px;letter-spacing:0.05px">[мм]</div>
<div class="h1" style="left:351.3px;top:204.45px;letter-spacing:-0.8px">Вес</div>
<div class="h2" style="left:351.5px;top:223.95px;letter-spacing:0.55px">[кг/шт]</div>
<div class="d" style="left:45.5px;top:267.45px">350</div>
<div class="d" style="left:139.1px;top:268.15px">415</div>
<div class="d" style="left:245.5px;top:268.15px">295</div>
<div class="d" style="left:352.5px;top:268.15px">1,20</div>
<div class="d" style="left:45.5px;top:296.85px">450</div>
<div class="d" style="left:139.1px;top:297.55px">515</div>
<div class="d" style="left:245.5px;top:297.55px">295</div>
<div class="d" style="left:352.5px;top:297.55px">1,40</div>
<div class="d" style="left:45.5px;top:326.25px">650</div>
<div class="d" style="left:139.1px;top:326.95px">715</div>
<div class="d" style="left:245.5px;top:326.95px">595</div>
<div class="d" style="left:352.5px;top:326.95px">1,90</div>
<div class="d" style="left:45.5px;top:355.55px">750</div>
<div class="d" style="left:139.1px;top:356.25px">815</div>
<div class="d" style="left:245.5px;top:356.25px">695</div>
<div class="d" style="left:352.5px;top:356.25px">2,00</div>
<div class="d" style="left:45.5px;top:384.85px">850</div>
<div class="d" style="left:139.1px;top:385.55px">915</div>
<div class="d" style="left:245.5px;top:385.55px">795</div>
<div class="d" style="left:352.5px;top:385.55px">2,30</div>
<div class="wm">WWW.SANMARKET.RU</div>
</div>
</body>
</html>
